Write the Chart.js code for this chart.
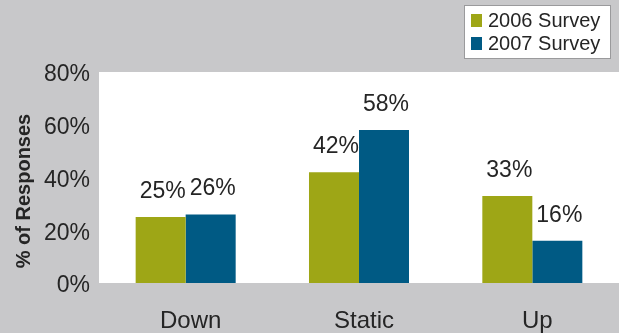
<!DOCTYPE html>
<html>
<head>
<meta charset="utf-8">
<script src="https://cdn.jsdelivr.net/npm/chart.js@4/dist/chart.umd.min.js"></script>
<style>
  html, body { margin: 0; padding: 0; background: #c8c8ca; }
  #wrap { width: 619px; height: 333px; }
</style>
</head>
<body>
<div id="wrap"><canvas id="c" width="619" height="333"></canvas></div>
<script>
// Survey responses by direction, in percent
const categories = ['Down', 'Static', 'Up'];
const survey2006 = [25, 42, 33];
const survey2007 = [26, 58, 16];
const seriesNames = ['2006 Survey', '2007 Survey'];
const yTicks = [0, 20, 40, 60, 80];

const OLIVE = '#9ea616';
const BLUE = '#005a84';
const TEXT = '#252525';
const FONT = '"Liberation Sans", Arial, Helvetica, sans-serif';

// White plotting panel on the grey page
const panelPlugin = {
  id: 'panel',
  beforeDraw(chart) {
    const { ctx, chartArea: a } = chart;
    ctx.save();
    ctx.fillStyle = '#c8c8ca';
    ctx.fillRect(0, 0, chart.width, chart.height);
    ctx.fillStyle = '#ffffff';
    ctx.fillRect(a.left, a.top, a.right - a.left, a.bottom - a.top);
    ctx.restore();
  }
};

// Percent labels above each bar
const valueLabels = {
  id: 'valueLabels',
  afterDatasetsDraw(chart) {
    const { ctx } = chart;
    ctx.save();
    ctx.font = '23px ' + FONT;
    ctx.fillStyle = TEXT;
    ctx.textAlign = 'center';
    ctx.textBaseline = 'alphabetic';
    chart.data.datasets.forEach((ds, i) => {
      chart.getDatasetMeta(i).data.forEach((bar, j) => {
        ctx.fillText(ds.data[j] + '%', bar.x + 2, bar.y - 19);
      });
    });
    ctx.restore();
  }
};

// Boxed legend in the top-right corner and the rotated axis title
const decorations = {
  id: 'decorations',
  afterDraw(chart) {
    const { ctx } = chart;
    ctx.save();
    // legend box
    ctx.fillStyle = '#ffffff';
    ctx.fillRect(464, 5, 146, 53);
    ctx.strokeStyle = '#9a9a9c';
    ctx.lineWidth = 1;
    ctx.strokeRect(464.5, 5.5, 146, 53);
    ctx.font = '20px ' + FONT;
    ctx.textBaseline = 'middle';
    ctx.textAlign = 'left';
    chart.data.datasets.forEach((ds, i) => {
      const cy = 20 + i * 23;
      ctx.fillStyle = ds.backgroundColor;
      ctx.fillRect(471, cy - 6, 11, 13);
      ctx.fillStyle = TEXT;
      ctx.fillText(ds.label, 488, cy + 1);
    });
    // y axis title
    ctx.translate(24, 191);
    ctx.rotate(-Math.PI / 2);
    ctx.font = 'bold 20px ' + FONT;
    ctx.textAlign = 'center';
    ctx.textBaseline = 'middle';
    ctx.fillStyle = TEXT;
    ctx.fillText('% of Responses', 0, 0);
    ctx.restore();
  }
};

new Chart(document.getElementById('c'), {
  type: 'bar',
  data: {
    labels: categories,
    datasets: [
      { label: seriesNames[0], data: survey2006, backgroundColor: OLIVE },
      { label: seriesNames[1], data: survey2007, backgroundColor: BLUE }
    ]
  },
  options: {
    responsive: false,
    animation: false,
    devicePixelRatio: 1,
    layout: { padding: { top: 72, right: 0, bottom: 0, left: 0 } },
    datasets: {
      bar: { categoryPercentage: 0.577, barPercentage: 1.0, borderWidth: 0 }
    },
    plugins: {
      legend: { display: false },
      tooltip: { enabled: false }
    },
    scales: {
      x: {
        grid: { display: false, drawTicks: false },
        border: { display: false },
        ticks: {
          color: TEXT,
          font: { family: FONT, size: 24 },
          padding: 24,
          labelOffset: 5
        },
        afterFit(scale) { scale.height = 50; }
      },
      y: {
        min: 0,
        max: 80,
        grid: { display: false, drawTicks: false },
        border: { display: false },
        afterBuildTicks(scale) {
          scale.ticks = yTicks.map(v => ({ value: v }));
        },
        ticks: {
          color: TEXT,
          font: { family: FONT, size: 23 },
          padding: 9,
          labelOffset: 3,
          callback: v => v + '%'
        },
        afterFit(scale) { scale.width = 99; }
      }
    }
  },
  plugins: [panelPlugin, valueLabels, decorations]
});
</script>
</body>
</html>
